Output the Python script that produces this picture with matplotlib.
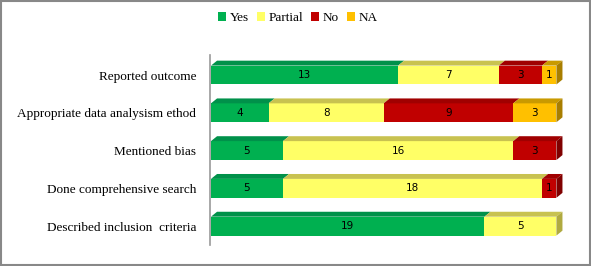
import numpy as np
import matplotlib
matplotlib.use("Agg")
import matplotlib.pyplot as plt
from matplotlib.patches import Polygon, Patch, Rectangle

# data, bottom row first
categories = ["Described inclusion  criteria", "Done comprehensive search",
              "Mentioned bias", "Appropriate data analysism ethod", "Reported outcome"]
series_names = ["Yes", "Partial", "No", "NA"]
yes_vals = [19, 5, 5, 4, 13]
partial_vals = [5, 18, 16, 8, 7]
no_vals = [0, 1, 3, 9, 3]
na_vals = [0, 0, 0, 3, 1]

front_colors = ["#00B050", "#FFFF66", "#C00000", "#FFC000"]
top_colors = ["#00914A", "#C8C250", "#A00000", "#C99A00"]
side_colors = ["#007A3A", "#B0AA40", "#800000", "#A87E00"]

W, H = 591, 266
fig = plt.figure(figsize=(W / 100, H / 100), dpi=100)
ax = fig.add_axes([210 / W, (H - 245) / H, (578 - 210) / W, (245 - 55) / H])

bar_h = 0.5
dx, dy = 0.42, 0.13
values = np.array([yes_vals, partial_vals, no_vals, na_vals], dtype=float)

for i, cat in enumerate(categories):
    col = values[:, i]
    left = 0.0
    last = max(k for k in range(4) if col[k] > 0)
    for k in range(4):
        w = col[k]
        if w <= 0:
            continue
        y0, y1 = i - bar_h / 2, i + bar_h / 2
        ax.add_patch(Rectangle((left, y0), w, bar_h, facecolor=front_colors[k],
                               edgecolor="none"))
        ax.add_patch(Polygon([(left, y1), (left + dx, y1 + dy), (left + w + dx, y1 + dy),
                              (left + w, y1)], closed=True, facecolor=top_colors[k],
                             edgecolor="none"))
        if k == last:
            ax.add_patch(Polygon([(left + w, y0), (left + w, y1), (left + w + dx, y1 + dy),
                                  (left + w + dx, y0 + dy)], closed=True,
                                 facecolor=side_colors[k], edgecolor="none"))
        ax.text(left + w / 2, i, f"{int(w)}", ha="center", va="center",
                fontsize=7.5, family="DejaVu Sans", color="black")
        left += w

ax.set_xlim(-0.07, 25.5)
ax.set_ylim(-0.5, 4.53)
ax.set_yticks(range(len(categories)))
ax.set_yticklabels(categories, family="Liberation Serif", fontsize=9.5)
ax.set_xticks([])
ax.tick_params(axis="y", length=0, pad=10)
for s in ["top", "right", "bottom"]:
    ax.spines[s].set_visible(False)
ax.spines["left"].set_color("#999999")
ax.spines["left"].set_linewidth(1.2)

handles = [Patch(facecolor=c, edgecolor="none") for c in front_colors]
fig.legend(handles, series_names, loc="center", bbox_to_anchor=(298 / W, 1 - 18 / H),
           ncol=4, frameon=False, handlelength=0.6, handleheight=0.6,
           handletextpad=0.3, columnspacing=0.6,
           prop={"family": "Liberation Serif", "size": 9.5})

fig.patches.append(Rectangle((0.001, 0.002), 0.997, 0.995, transform=fig.transFigure,
                             fill=False, edgecolor="#888888", linewidth=1.5))

fig.savefig("out.png", dpi=100)
